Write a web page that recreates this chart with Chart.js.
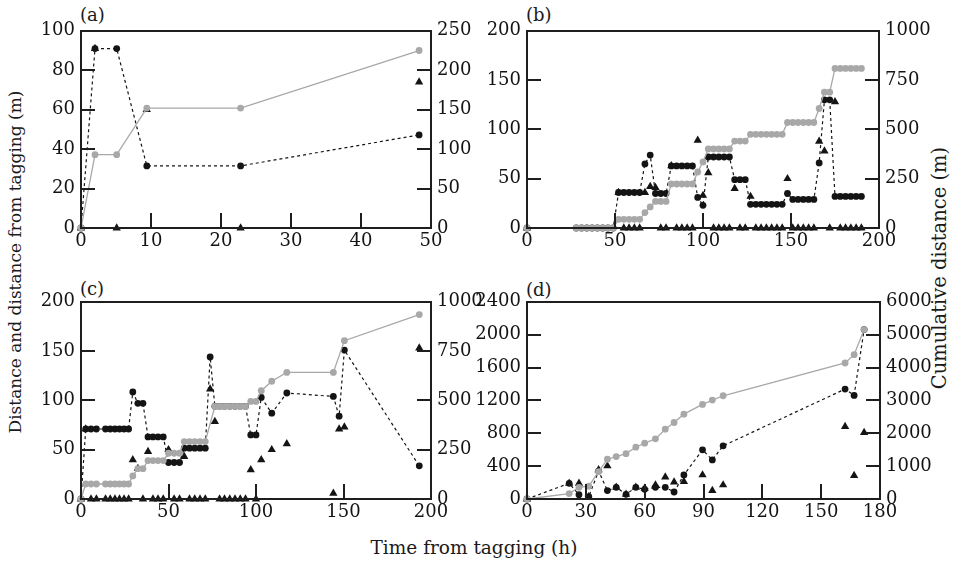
<!DOCTYPE html>
<html>
<head>
<meta charset="utf-8">
<script src="https://cdn.jsdelivr.net/npm/chart.js@4.4.1/dist/chart.umd.min.js"></script>
<style>
  body { margin: 0; background: #fff; }
  #page { position: relative; width: 954px; height: 569px; overflow: hidden; font-family: "DejaVu Serif", serif; color: #1a1a1a; }
  canvas { position: absolute; z-index: 1; }
  .lbl { position: absolute; font-size: 18px; line-height: 1; white-space: nowrap; }
  .title { position: absolute; line-height: 1; white-space: nowrap; transform: translate(-50%, -50%); }
  .rot { transform: translate(-50%, -50%) rotate(-90deg); }
  .frame { position: absolute; box-sizing: border-box; border: 2px solid #1e1e1e; z-index: 3; }
  .tick { position: absolute; background: #1e1e1e; z-index: 3; }
</style>
</head>
<body>
<div id="page">
  <canvas id="pa" width="466" height="246" style="left:25px;top:14px"></canvas>
  <canvas id="pb" width="468" height="246" style="left:471px;top:14px"></canvas>
  <canvas id="pc" width="466" height="246" style="left:25px;top:285px"></canvas>
  <canvas id="pd" width="469" height="246" style="left:471px;top:285px"></canvas>
  <div class="lbl" style="left:80px;top:6px">(a)</div>
  <div class="lbl" style="left:526px;top:6px">(b)</div>
  <div class="lbl" style="left:80px;top:280px">(c)</div>
  <div class="lbl" style="left:526px;top:281px">(d)</div>
  <div class="title rot" style="left:15px;top:262px;font-size:17px">Distance and distance from tagging (m)</div>
  <div class="title rot" style="left:940px;top:268px;font-size:19.5px">Cumulative distance (m)</div>
  <div class="title" style="left:474px;top:548px;font-size:18.5px">Time from tagging (h)</div>
</div>
<script>
// panel (a)
const aTime = [0, 2, 5.1, 9.4, 22.8, 48.3];
const aCum  = [0, 93, 93, 152, 152, 225];
const aDist = [0, 91, 91, 31.5, 31.5, 47.2];
const aStep = [0, 91, 0, 60, 0, 74];

// panel (b)
const bTime = [0, 28, 31, 34, 37, 40, 43, 46, 49, 52, 55, 58, 61, 64, 67, 70, 73, 76, 79,
  82, 85, 88, 91, 94, 97, 100, 103, 106, 109, 112, 115, 118, 121, 124,
  127, 130, 133, 136, 139, 142, 145, 148, 151, 154, 157, 160, 163, 166, 169, 172,
  175, 178, 181, 184, 187, 190];
const bCum  = [0, 0, 0, 0, 0, 0, 0, 0, 0, 44, 44, 44, 44, 44, 78, 107, 135, 135, 135,
  223, 223, 223, 223, 223, 284, 335, 401, 401, 401, 401, 401, 441, 441, 441,
  475, 475, 475, 475, 475, 475, 475, 535, 535, 535, 535, 535, 535, 606, 689, 689,
  809, 809, 809, 809, 809, 809];
const bDist = [0, 0, 0, 0, 0, 0, 0, 0, 0, 36, 36, 36, 36, 36, 65, 74, 35, 35, 35,
  63, 63, 63, 63, 63, 31, 23, 72, 72, 72, 72, 72, 49, 49, 49,
  24, 24, 24, 24, 24, 24, 24, 35, 29, 29, 29, 29, 29, 66, 130, 130,
  32, 32, 32, 32, 32, 32];
const bStep = [0, null, null, null, null, null, null, null, null, 36, 0, 0, 0, 0, 36, 42, 41, 0, 0,
  63, 0, 0, 0, 0, 89, 33, 56, 0, 0, 0, 0, 40, 0, 0,
  32, 0, 0, 0, 0, 0, 0, 50, 0, 0, 0, 0, 0, 88, 78, 0,
  128, 0, 0, 0, 0, 0];

// panel (c)
const cTime = [0, 2.7, 5.7, 8.8, 14, 16.7, 19.4, 22, 24.6, 27.2, 29.6, 32.5, 35.4,
  38.3, 41.1, 44, 47, 50, 53.2, 56.3, 59, 62, 65, 68, 71, 73.8,
  76.5, 79.2, 82, 85, 88, 91, 94, 97, 100, 103, 109, 117.6, 144.2, 147.5, 150.5, 193.3];
const cCum  = [0, 76, 76, 76, 76, 76, 76, 76, 76, 76, 117, 154, 154,
  195, 195, 195, 195, 232, 232, 232, 291, 291, 291, 291, 291, null,
  469, 469, 469, 469, 469, 469, 469, 495, 495, 549, 597, 642, 642, null, 803, 935];
const cDist = [0, 71, 71, 71, 71, 71, 71, 71, 71, 71, 108.5, 97, 97,
  63, 63, 63, 63, 37, 37, 37, 51.5, 51.5, 51.5, 51.5, 51.5, 144,
  94, 94, 94, 94, 94, 94, 94, 65, 65, 103, 87, 107.5, 104, 84, 151, 33.6];
const cStep = [0, 71, 0, 0, 0, 0, 0, 0, 0, 0, 39.7, 31, 0,
  48, 0, 0, 0, 50, 0, 0, 43, 0, 0, 0, 0, 111.5,
  78.6, 0, 0, 0, 0, 0, 0, 29.5, 0, 39.7, 50, 56, 5.8, 71, 73, 153];

// panel (d)
const dTime = [0, 21.5, 26.5, 31.5, 36.5, 41, 45.5, 50.5, 55.5, 60, 65.5, 70.5, 75, 80,
  89.5, 94.5, 100, 162.2, 166.8, 171.9];
const dCum  = [0, 165, 356, 390, 834, 1210, 1291, 1380, 1576, 1698, 1830, 2125, 2328, 2582,
  2877, 3009, 3141, 4138, 4392, 5155];
const dDist = [0, 191, 52, 30, 340, 102, 142, 57, 142, 118, 142, 142, 85, 293,
  598, 476, 647, 1338, 1261, 2062];
const dStep = [0, 191, 191, 28, 354, 402, 142, 57, 142, 130, 171, 268, 205, 211,
  293, 102, 171, 882, 285, 809];

const gray = "#a8a8a8";
const black = "#141414";
const tickFont = { family: "DejaVu Serif", size: 18 };

function pts(time, vals) {
  return time.map((t, i) => ({ x: t, y: vals[i] })).filter(p => p.y !== null);
}

// frame and inward ticks as page elements over the canvas, placed from the chart's scales
function addFrame(chart) {
  const page = document.getElementById("page");
  const cv = chart.canvas;
  const ox = cv.offsetLeft, oy = cv.offsetTop;
  const a = chart.chartArea;
  const L = Math.round(ox + a.left), R = Math.round(ox + a.right);
  const T = Math.round(oy + a.top), B = Math.round(oy + a.bottom);
  const put = (cls, l, t, w, h) => {
    const el = document.createElement("div");
    el.className = cls;
    el.style.left = l + "px"; el.style.top = t + "px";
    el.style.width = w + "px"; el.style.height = h + "px";
    page.appendChild(el);
  };
  put("frame", L - 1, T - 1, R - L + 2, B - T + 2);
  const sx = chart.scales.x, sy = chart.scales.y, sy2 = chart.scales.y2;
  sy.ticks.forEach(t => {
    const p = Math.round(oy + sy.getPixelForValue(t.value));
    if (p > T + 2 && p < B - 2) put("tick", L, p - 1, 14, 2);
  });
  sy2.ticks.forEach(t => {
    const p = Math.round(oy + sy2.getPixelForValue(t.value));
    if (p > T + 2 && p < B - 2) put("tick", R - 14, p - 1, 14, 2);
  });
  sx.ticks.forEach(t => {
    const p = Math.round(ox + sx.getPixelForValue(t.value));
    if (p > L + 2 && p < R - 2) put("tick", p - 1, B - 15, 2, 15);
  });
}

function makePanel(id, time, cum, dist, step, xMax, xStep, yMax, yStep, y2Max, y2Step) {
  const chart = new Chart(document.getElementById(id), {
    type: "line",
    data: {
      datasets: [
        {
          data: pts(time, cum), yAxisID: "y2", order: 0, clip: false,
          borderColor: gray, borderWidth: 1.3,
          pointRadius: 3.4, pointBackgroundColor: gray, pointBorderWidth: 0
        },
        {
          data: pts(time, step), yAxisID: "y", order: 1, clip: false, showLine: false,
          pointStyle: "triangle", pointRadius: 4.8,
          pointBackgroundColor: black, pointBorderColor: black, pointBorderWidth: 0
        },
        {
          data: pts(time, dist), yAxisID: "y", order: 2, clip: false,
          borderColor: black, borderWidth: 1.2, borderDash: [3, 3],
          pointRadius: 3.4, pointBackgroundColor: black, pointBorderWidth: 0
        }
      ]
    },
    options: {
      responsive: false,
      animation: false,
      events: [],
      layout: { padding: { top: 14 } },
      plugins: { legend: { display: false }, tooltip: { enabled: false } },
      scales: {
        x: {
          type: "linear", min: 0, max: xMax,
          grid: { display: false, drawTicks: false }, border: { display: false },
          ticks: { stepSize: xStep, padding: 3, color: black, font: tickFont, maxRotation: 0, callback: v => String(v) },
          afterFit: s => { s.height = 32; }
        },
        y: {
          position: "left", min: 0, max: yMax,
          grid: { display: false, drawTicks: false }, border: { display: false },
          ticks: { stepSize: yStep, padding: 6, color: black, font: tickFont, callback: v => String(v) },
          afterFit: s => { s.width = 56; }
        },
        y2: {
          position: "right", min: 0, max: y2Max,
          grid: { display: false, drawTicks: false }, border: { display: false },
          ticks: { stepSize: y2Step, padding: 6, color: black, font: tickFont, callback: v => String(v) },
          afterFit: s => { s.width = 60; }
        }
      }
    }
  });
  addFrame(chart);
  return chart;
}

makePanel("pa", aTime, aCum, aDist, aStep, 50, 10, 100, 20, 250, 50);
makePanel("pb", bTime, bCum, bDist, bStep, 200, 50, 200, 50, 1000, 250);
makePanel("pc", cTime, cCum, cDist, cStep, 200, 50, 200, 50, 1000, 250);
makePanel("pd", dTime, dCum, dDist, dStep, 180, 30, 2400, 400, 6000, 1000);
</script>
</body>
</html>
